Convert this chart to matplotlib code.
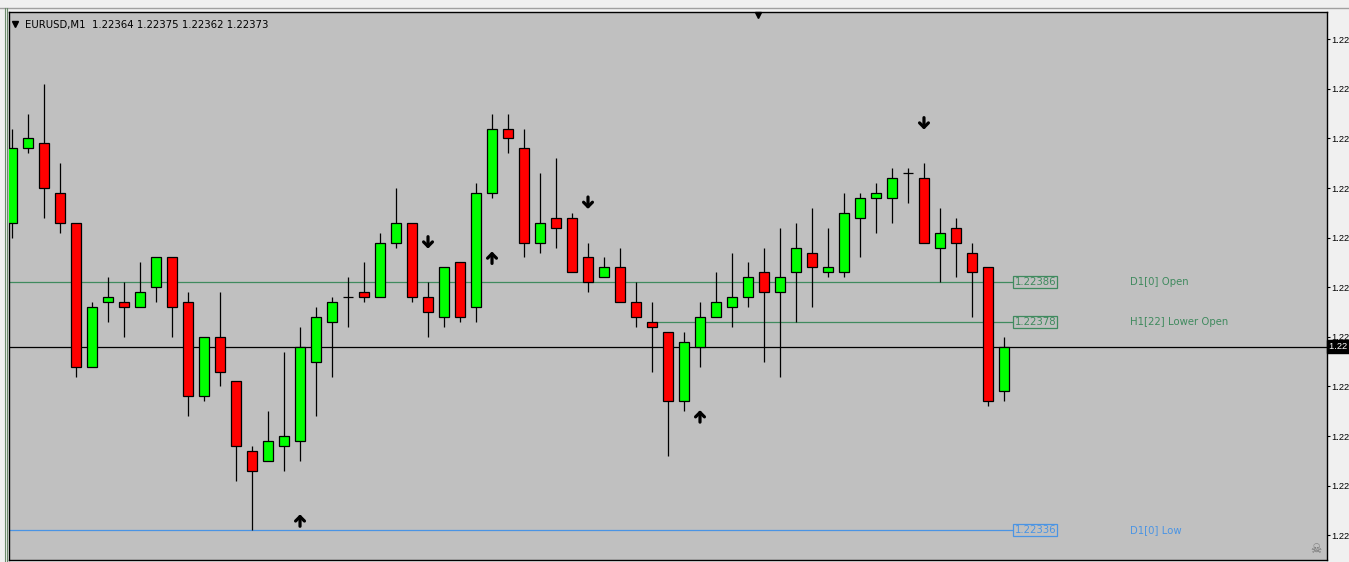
import matplotlib
matplotlib.use("Agg")
import matplotlib.pyplot as plt
import matplotlib.transforms as mtransforms

# EURUSD M1 candles
opens = [1.22398, 1.22413, 1.22414, 1.22404, 1.22398, 1.22369, 1.22382, 1.22382, 1.22381, 1.22385,
         1.22391, 1.22382, 1.22363, 1.22375, 1.22366, 1.22352, 1.22350, 1.22353, 1.22354, 1.22370,
         1.22378, 1.22383, 1.22384, 1.22383, 1.22394, 1.22398, 1.22383, 1.22379, 1.22390, 1.22381,
         1.22404, 1.22417, 1.22413, 1.22394, 1.22399, 1.22399, 1.22391, 1.22387, 1.22389, 1.22382,
         1.22378, 1.22376, 1.22362, 1.22373, 1.22379, 1.22381, 1.22383, 1.22388, 1.22384, 1.22388,
         1.22392, 1.22388, 1.22388, 1.22399, 1.22403, 1.22403, 1.22408, 1.22407, 1.22393, 1.22397,
         1.22392, 1.22389, 1.22364]
highs = [1.22417, 1.22420, 1.22426, 1.22410, 1.22398, 1.22382, 1.22387, 1.22386, 1.22390, 1.22391,
         1.22391, 1.22384, 1.22375, 1.22384, 1.22366, 1.22353, 1.22360, 1.22372, 1.22377, 1.22381,
         1.22383, 1.22387, 1.22390, 1.22396, 1.22405, 1.22398, 1.22386, 1.22389, 1.22390, 1.22406,
         1.22420, 1.22420, 1.22417, 1.22408, 1.22411, 1.22400, 1.22394, 1.22391, 1.22393, 1.22386,
         1.22382, 1.22376, 1.22376, 1.22382, 1.22388, 1.22392, 1.22390, 1.22393, 1.22397, 1.22398,
         1.22401, 1.22397, 1.22404, 1.22404, 1.22406, 1.22409, 1.22409, 1.22410, 1.22401, 1.22399,
         1.22394, 1.22389, 1.22375]
lows = [1.22395, 1.22412, 1.22399, 1.22396, 1.22367, 1.22369, 1.22378, 1.22375, 1.22381, 1.22382,
        1.22375, 1.22359, 1.22362, 1.22365, 1.22346, 1.22336, 1.22350, 1.22348, 1.22350, 1.22359,
        1.22367, 1.22377, 1.22382, 1.22383, 1.22393, 1.22382, 1.22375, 1.22377, 1.22378, 1.22378,
        1.22403, 1.22412, 1.22391, 1.22392, 1.22393, 1.22388, 1.22384, 1.22387, 1.22382, 1.22377,
        1.22368, 1.22351, 1.22360, 1.22369, 1.22379, 1.22377, 1.22381, 1.22370, 1.22367, 1.22378,
        1.22381, 1.22387, 1.22387, 1.22391, 1.22396, 1.22398, 1.22402, 1.22394, 1.22386, 1.22387,
        1.22379, 1.22361, 1.22362]
closes = [1.22413, 1.22415, 1.22405, 1.22398, 1.22369, 1.22381, 1.22383, 1.22381, 1.22384, 1.22391,
          1.22381, 1.22363, 1.22375, 1.22368, 1.22353, 1.22348, 1.22354, 1.22355, 1.22373, 1.22379,
          1.22382, 1.22383, 1.22383, 1.22394, 1.22398, 1.22383, 1.22380, 1.22389, 1.22379, 1.22404,
          1.22417, 1.22415, 1.22394, 1.22398, 1.22397, 1.22388, 1.22386, 1.22389, 1.22382, 1.22379,
          1.22377, 1.22362, 1.22374, 1.22379, 1.22382, 1.22383, 1.22387, 1.22384, 1.22387, 1.22393,
          1.22389, 1.22389, 1.22400, 1.22403, 1.22404, 1.22407, 1.22408, 1.22394, 1.22396, 1.22394,
          1.22388, 1.22362, 1.22373]

# signal arrows: (bar index, price at arrow centre)
down_arrows = [(26, 1.22394), (36, 1.22402), (57, 1.22418)]
up_arrows = [(18, 1.22338), (30, 1.22391), (43, 1.22359)]

# horizontal levels
d1_open = 1.22386
h1_lower_open = 1.22378
h1_start = 40.2
d1_low = 1.22336
level_end = 62.56

y_ticks = [1.22435, 1.22425, 1.22415, 1.22405, 1.22395, 1.22385,
           1.22375, 1.22365, 1.22355, 1.22345, 1.22335]

header = "EURUSD,M1  1.22364 1.22375 1.22362 1.22373"

plt.rcParams['font.family'] = ['DejaVu Sans']

fig = plt.figure(figsize=(13.49, 5.62), dpi=100, facecolor="#f0f0f0")
ax = fig.add_axes([9 / 1349, 2 / 562, 1318 / 1349, 548 / 562])
ax.set_facecolor("#c0c0c0")
ax.set_xlim(-0.19, 82.19)
ax.set_ylim(1.223300, 1.224405)

for side in ax.spines.values():
    side.set_color("black")
    side.set_linewidth(1.0)

xs = list(range(len(opens)))
body_w = 0.625

# wicks
ax.vlines(xs, lows, highs, color="black", linewidth=0.9, zorder=3)

# bodies
for i in xs:
    o, c = opens[i], closes[i]
    if c > o:
        col = "#00ff00"
    elif c < o:
        col = "#ff0000"
    else:
        ax.hlines(o, i - body_w / 2, i + body_w / 2, color="black", linewidth=0.9, zorder=4)
        continue
    ax.bar(i, abs(c - o), bottom=min(o, c), width=body_w, color=col,
           edgecolor="black", linewidth=0.9, zorder=4)

# level lines
green = "#3f8a5e"
blue = "#4a94e4"
ax.hlines(d1_open, -0.19, level_end, color=green, linewidth=0.9, zorder=2)
ax.hlines(h1_lower_open, h1_start, level_end, color=green, linewidth=0.9, zorder=2)
ax.hlines(d1_low, -0.19, level_end, color=blue, linewidth=0.9, zorder=2)
ax.axhline(closes[-1], color="black", linewidth=0.9, zorder=2)

box_font = dict(fontsize=7.3, va="center", ha="left", zorder=5)
for price, col, name in [(d1_open, green, "D1[0] Open"),
                         (h1_lower_open, green, "H1[22] Lower Open"),
                         (d1_low, blue, "D1[0] Low")]:
    ax.text(level_end + 0.1, price, f"{price:.5f}", color=col,
            bbox=dict(boxstyle="square,pad=0.12", facecolor="none", edgecolor=col, linewidth=0.9),
            **box_font)
    ax.text(69.9, price, name, color=col, **box_font)

# arrows (thick shaft, open chevron head)
arrow_style = dict(arrowstyle="->,head_width=0.32,head_length=0.32", lw=2.3, color="black",
                   shrinkA=0, shrinkB=0)
for i, p in down_arrows:
    tip = ax.transData + mtransforms.ScaledTranslation(0, -6 / 100, fig.dpi_scale_trans)
    ax.annotate("", xy=(i, p), xycoords=tip, xytext=(0, 8.6), textcoords="offset points",
                arrowprops=arrow_style, zorder=5)
for i, p in up_arrows:
    tip = ax.transData + mtransforms.ScaledTranslation(0, 6 / 100, fig.dpi_scale_trans)
    ax.annotate("", xy=(i, p), xycoords=tip, xytext=(0, -8.6), textcoords="offset points",
                arrowprops=arrow_style, zorder=5)

# price axis on the right (the panel is only wide enough for "1.22")
ax.set_xticks([])
ax.yaxis.tick_right()
ax.set_yticks(y_ticks)
ax.set_yticklabels([f"{t:.5f}"[:4] for t in y_ticks], fontfamily="Liberation Sans")
ax.tick_params(axis="y", direction="out", length=2.2, width=0.8, labelsize=6.7, pad=1.0,
               colors="black")

# current price label
trans = mtransforms.blended_transform_factory(ax.transAxes, ax.transData)
ax.text(1.0014, closes[-1], f"{closes[-1]:.5f}"[:4] + " ", transform=trans, color="white",
        fontsize=6.7, fontfamily="Liberation Sans", va="center", ha="left", clip_on=False,
        bbox=dict(boxstyle="square,pad=0.2", facecolor="black", edgecolor="black"))

# header and markers
ax.text(0.0118, 0.985, header, transform=ax.transAxes, fontsize=7.3, va="top", ha="left")
ax.plot([0.0045], [0.978], transform=ax.transAxes, marker="v", markersize=4.5, color="black",
        linestyle="none")
ax.plot([(758 - 9) / 1318], [0.995], transform=ax.transAxes, marker="v", markersize=5,
        color="black", linestyle="none", clip_on=False)
ax.text(0.9915, 0.008, "\u2620", transform=ax.transAxes, fontsize=9, color="#707070",
        ha="center", va="bottom")

# window borders
fig.add_artist(plt.Line2D([0, 1], [1 - 8 / 562, 1 - 8 / 562], transform=fig.transFigure,
                          color="#a0a0a0", linewidth=1))
fig.add_artist(plt.Line2D([4.5 / 1349, 4.5 / 1349], [0, 1 - 8 / 562], transform=fig.transFigure,
                          color="#6a8a6a", linewidth=0.8))
fig.add_artist(plt.Line2D([6.5 / 1349, 6.5 / 1349], [0, 1 - 8 / 562], transform=fig.transFigure,
                          color="#6a8a6a", linewidth=0.8))

fig.savefig("out.png", dpi=100, facecolor=fig.get_facecolor())
